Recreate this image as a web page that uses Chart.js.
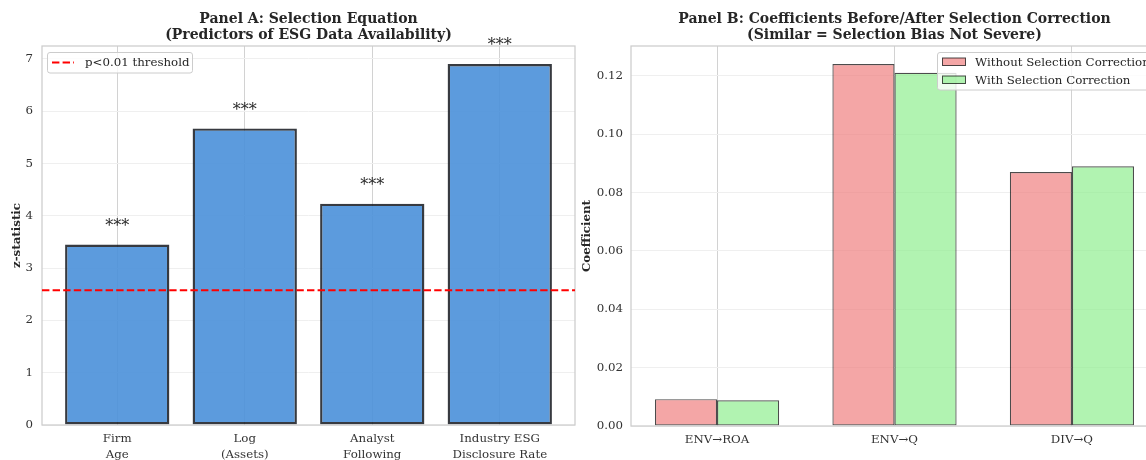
<!DOCTYPE html>
<html>
<head>
<meta charset="utf-8">
<script src="https://cdn.jsdelivr.net/npm/chart.js@4.4.1/dist/chart.umd.min.js"></script>
<style>
  html, body { margin: 0; padding: 0; background: #ffffff; overflow: hidden; width: 1146px; height: 460px; }
  #wrap { position: relative; width: 1146px; height: 460px; overflow: hidden; }
  #cA { position: absolute; left: 0; top: 0; }
  #cB { position: absolute; left: 575px; top: 0; }
</style>
</head>
<body>
<div id="wrap">
  <canvas id="cA" width="578" height="460"></canvas>
  <canvas id="cB" width="585" height="460"></canvas>
</div>
<script>
// ---- Panel A: selection equation ----
const predictors = [['Firm', 'Age'], ['Log', '(Assets)'], ['Analyst', 'Following'], ['Industry ESG', 'Disclosure Rate']];
const zStats = [3.45, 5.67, 4.23, 6.90];
const zStars = ['***', '***', '***', '***'];
const zThreshold = 2.576;
const zTicks = [0, 1, 2, 3, 4, 5, 6, 7];

// ---- Panel B: coefficients before / after correction ----
const paths = ['ENV→ROA', 'ENV→Q', 'DIV→Q'];
const coefWithout = [0.0092, 0.124, 0.087];
const coefWith = [0.0088, 0.121, 0.089];
const coefTicks = [0, 0.02, 0.04, 0.06, 0.08, 0.10, 0.12];

const SERIF = "'DejaVu Serif', 'Liberation Serif', serif";
const INK = '#262626';
const TICK_INK = '#333333';
const FS = 11.8;
Chart.defaults.font.family = SERIF;
Chart.defaults.color = TICK_INK;
Chart.defaults.animation = false;

const BLUE = 'rgba(74,144,217,0.9)';
const BLUE_EDGE = 'rgba(20,24,30,0.85)';
const RED = 'rgba(240,128,128,0.7)';
const GREEN = 'rgba(144,238,144,0.7)';
const EDGE = 'rgba(0,0,0,0.7)';

// frame around the plotting area
const spines = {
  id: 'spines',
  afterDatasetsDraw(chart) {
    const { ctx, chartArea: a } = chart;
    ctx.save();
    ctx.strokeStyle = '#cccccc';
    ctx.lineWidth = 1.25;
    ctx.strokeRect(a.left, a.top, a.right - a.left, a.bottom - a.top);
    ctx.restore();
  }
};

function drawTitle(chart, lines) {
  const { ctx, chartArea: a } = chart;
  const cx = (a.left + a.right) / 2;
  ctx.save();
  ctx.font = `bold 14px ${SERIF}`;
  ctx.fillStyle = INK;
  ctx.textAlign = 'center';
  ctx.textBaseline = 'middle';
  ctx.fillText(lines[0], cx, 19.2);
  ctx.fillText(lines[1], cx, 35.2);
  ctx.restore();
}

function xRange(n, barSpan) {
  // 5% margin around the bars, like matplotlib's default
  const pad = barSpan / 2 + 0.05 * (n - 1 + barSpan);
  return { min: -pad, max: n - 1 + pad };
}

// ---------- Chart A ----------
const xa = xRange(predictors.length, 0.8);
const yMaxA = Math.max(...zStats) * 1.05;

const panelA = {
  id: 'panelA',
  afterDatasetsDraw(chart) {
    const { ctx, chartArea: a, scales } = chart;
    // p<0.01 threshold line
    const y = scales.y.getPixelForValue(zThreshold);
    ctx.save();
    ctx.beginPath();
    ctx.rect(a.left, a.top, a.right - a.left, a.bottom - a.top);
    ctx.clip();
    ctx.strokeStyle = '#ff0000';
    ctx.lineWidth = 2;
    ctx.setLineDash([7.4, 3.2]);
    ctx.beginPath();
    ctx.moveTo(a.left, y);
    ctx.lineTo(a.right, y);
    ctx.stroke();
    ctx.restore();
  },
  afterDraw(chart) {
    const { ctx, scales } = chart;
    drawTitle(chart, ['Panel A: Selection Equation', '(Predictors of ESG Data Availability)']);
    // significance stars
    ctx.save();
    ctx.font = `16px ${SERIF}`;
    ctx.fillStyle = INK;
    ctx.textAlign = 'center';
    ctx.textBaseline = 'alphabetic';
    zStats.forEach((v, i) => {
      const x = scales.x.getPixelForValue(i);
      const y = scales.y.getPixelForValue(v + 0.2) - 3.2;
      ctx.fillText(zStars[i], x, y);
    });
    ctx.restore();
    // legend
    ctx.save();
    ctx.beginPath();
    ctx.roundRect(47.5, 52.5, 145, 20.5, 2.5);
    ctx.fillStyle = 'rgba(255,255,255,0.8)';
    ctx.fill();
    ctx.strokeStyle = '#cccccc';
    ctx.lineWidth = 1;
    ctx.stroke();
    ctx.strokeStyle = '#ff0000';
    ctx.lineWidth = 2;
    ctx.setLineDash([7.4, 3.2]);
    ctx.beginPath();
    ctx.moveTo(52, 62.5);
    ctx.lineTo(74, 62.5);
    ctx.stroke();
    ctx.setLineDash([]);
    ctx.font = `${FS}px ${SERIF}`;
    ctx.fillStyle = INK;
    ctx.textAlign = 'left';
    ctx.textBaseline = 'middle';
    ctx.fillText('p<0.01 threshold', 85, 63);
    ctx.restore();
  }
};

new Chart(document.getElementById('cA'), {
  type: 'bar',
  data: {
    datasets: [{
      label: 'z-statistic',
      data: zStats.map((v, i) => ({ x: i, y: v })),
      backgroundColor: BLUE,
      borderColor: BLUE_EDGE,
      borderWidth: 2.4,
      borderSkipped: false,
      barPercentage: 0.818,
      categoryPercentage: 1.0
    }]
  },
  options: {
    responsive: false,
    layout: { padding: { top: 46, right: 3, left: 0, bottom: 0 } },
    plugins: { legend: { display: false }, tooltip: { enabled: false }, title: { display: false } },
    scales: {
      x: {
        type: 'linear', min: xa.min, max: xa.max, bounds: 'data', offset: false,
        afterBuildTicks: s => { s.ticks = predictors.map((_, i) => ({ value: i })); },
        afterFit: s => { s.height = 35; },
        grid: { color: '#d2d2d2', lineWidth: 1, drawTicks: false, offset: false },
        border: { display: false },
        ticks: {
          padding: 6.5, autoSkip: false, maxRotation: 0, color: TICK_INK,
          font: { size: FS, lineHeight: 1.3 },
          callback: v => predictors[Math.round(v)]
        }
      },
      y: {
        type: 'linear', min: 0, max: yMaxA, bounds: 'data',
        afterBuildTicks: s => { s.ticks = zTicks.map(v => ({ value: v })); },
        afterFit: s => { s.width = 42; },
        grid: { color: '#efefef', lineWidth: 1, drawTicks: false },
        border: { display: false },
        ticks: { padding: 9, color: TICK_INK, font: { size: FS }, callback: v => String(v) },
        title: { display: true, text: 'z-statistic', color: INK, font: { size: FS, weight: 'bold' }, padding: { top: 10, bottom: 0 } }
      }
    }
  },
  plugins: [spines, panelA]
});

// ---------- Chart B ----------
const xb = xRange(paths.length, 0.7);
const yMaxB = Math.max(...coefWithout, ...coefWith) * 1.05;

const panelB = {
  id: 'panelB',
  afterDraw(chart) {
    const { ctx } = chart;
    drawTitle(chart, ['Panel B: Coefficients Before/After Selection Correction', '(Similar = Selection Bias Not Severe)']);
    // legend
    const items = [
      { text: 'Without Selection Correction', fill: RED },
      { text: 'With Selection Correction', fill: GREEN }
    ];
    ctx.save();
    ctx.font = `${FS}px ${SERIF}`;
    const tw = Math.max(...items.map(it => ctx.measureText(it.text).width));
    const bx = 362.5, by = 52.5;
    ctx.beginPath();
    ctx.roundRect(bx, by, 38 + tw + 8, 37.5, 2.5);
    ctx.fillStyle = 'rgba(255,255,255,0.8)';
    ctx.fill();
    ctx.strokeStyle = '#cccccc';
    ctx.lineWidth = 1;
    ctx.stroke();
    items.forEach((it, k) => {
      const cy = 62 + k * 18;
      ctx.fillStyle = it.fill;
      ctx.fillRect(367.5, cy - 4, 23, 7.5);
      ctx.strokeStyle = EDGE;
      ctx.strokeRect(367.5, cy - 4, 23, 7.5);
      ctx.fillStyle = INK;
      ctx.textAlign = 'left';
      ctx.textBaseline = 'middle';
      ctx.fillText(it.text, 400, cy + 0.5);
    });
    ctx.restore();
  }
};

new Chart(document.getElementById('cB'), {
  type: 'bar',
  data: {
    datasets: [
      {
        label: 'Without Selection Correction',
        data: coefWithout.map((v, i) => ({ x: i, y: v })),
        backgroundColor: RED, borderColor: EDGE, borderWidth: 1.2, borderSkipped: false,
        barPercentage: 1.0, categoryPercentage: 0.7
      },
      {
        label: 'With Selection Correction',
        data: coefWith.map((v, i) => ({ x: i, y: v })),
        backgroundColor: GREEN, borderColor: EDGE, borderWidth: 1.2, borderSkipped: false,
        barPercentage: 1.0, categoryPercentage: 0.7
      }
    ]
  },
  options: {
    responsive: false,
    layout: { padding: { top: 46, right: 2, left: 0, bottom: 0 } },
    plugins: { legend: { display: false }, tooltip: { enabled: false }, title: { display: false } },
    scales: {
      x: {
        type: 'linear', min: xb.min, max: xb.max, bounds: 'data', offset: false,
        afterBuildTicks: s => { s.ticks = paths.map((_, i) => ({ value: i })); },
        afterFit: s => { s.height = 34; },
        grid: { color: '#d2d2d2', lineWidth: 1, drawTicks: false, offset: false },
        border: { display: false },
        ticks: {
          padding: 6, autoSkip: false, maxRotation: 0, color: TICK_INK,
          font: { size: FS, lineHeight: 1.3 },
          callback: v => paths[Math.round(v)]
        }
      },
      y: {
        type: 'linear', min: 0, max: yMaxB, bounds: 'data',
        afterBuildTicks: s => { s.ticks = coefTicks.map(v => ({ value: v })); },
        afterFit: s => { s.width = 56; },
        grid: { color: '#efefef', lineWidth: 1, drawTicks: false },
        border: { display: false },
        ticks: { padding: 8, color: TICK_INK, font: { size: FS }, callback: v => v.toFixed(2) },
        title: { display: true, text: 'Coefficient', color: INK, font: { size: FS, weight: 'bold' }, padding: { top: 5, bottom: 0 } }
      }
    }
  },
  plugins: [spines, panelB]
});
</script>
</body>
</html>
